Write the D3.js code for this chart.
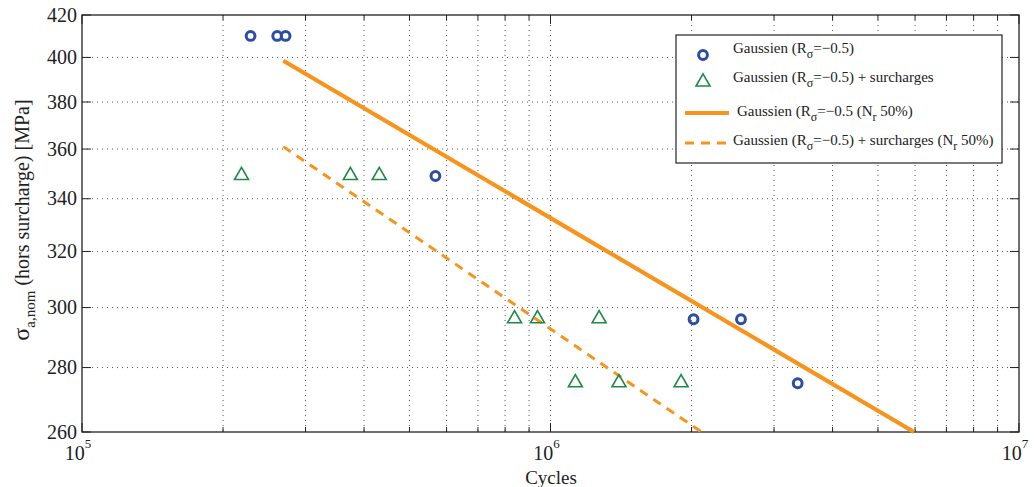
<!DOCTYPE html>
<html><head><meta charset="utf-8">
<script src="https://cdn.jsdelivr.net/npm/d3@7"></script>
<style>body{margin:0;background:#fff}svg text{font-family:"Liberation Serif","DejaVu Serif",serif;fill:#222}</style>
</head><body><svg id="c" width="1034" height="487"></svg>
<script>
// data
const circleX = [2.29e5, 2.61e5, 2.72e5, 5.68e5, 2.02e6, 2.55e6, 3.37e6];
const circleY = [410, 410, 410, 349, 296, 296, 275];
const triX = [2.19e5, 3.74e5, 4.31e5, 8.38e5, 9.38e5, 1.27e6, 1.13e6, 1.40e6, 1.90e6];
const triY = [349, 349, 349, 296, 296, 296, 275, 275, 275];
const solidX = [2.69e5, 5.97e6];
const solidY = [398.5, 260];
const dashX = [2.69e5, 2.1e6];
const dashY = [361, 260];
const yTicks = [260, 280, 300, 320, 340, 360, 380, 400, 420];
const xMajor = [1e5, 1e6, 1e7];
const xMajorExp = ["5", "6", "7"];
const legendLabels = [
  ["Gaussien (R", "σ", "=−0.5)"],
  ["Gaussien (R", "σ", "=−0.5) + surcharges"],
  ["Gaussien (R", "σ", "=−0.5 (N", "r", " 50%)"],
  ["Gaussien (R", "σ", "=−0.5) + surcharges (N", "r", " 50%)"]
];

const svg = d3.select("#c");
const L = 82, R = 1019, T = 15, B = 432;
const FONT = '"Liberation Serif","DejaVu Serif",serif';
const x = d3.scaleLog().domain([1e5, 1e7]).range([L, R]);
const y = d3.scaleLog().domain([260, 420]).range([B, T]);
const blue = "#2b4ea2", green = "#1e8a45", orange = "#f7941d";

const xMinor = [];
for (let e = 5; e < 7; e++) for (let k = 2; k <= 9; k++) xMinor.push(k * Math.pow(10, e));
const xGrid = xMinor.concat([1e6]);

const g = svg.append("g").attr("font-family", FONT);
g.selectAll(".gx").data(xGrid).join("line")
  .attr("x1", d => x(d)).attr("x2", d => x(d)).attr("y1", T).attr("y2", B)
  .attr("stroke", "#555").attr("stroke-width", 1).attr("stroke-dasharray", "1,4");
g.selectAll(".gy").data(yTicks.slice(1, -1)).join("line")
  .attr("x1", L).attr("x2", R).attr("y1", d => y(d)).attr("y2", d => y(d))
  .attr("stroke", "#555").attr("stroke-width", 1).attr("stroke-dasharray", "1,4");

g.append("rect").attr("x", L).attr("y", T).attr("width", R - L).attr("height", B - T)
  .attr("fill", "none").attr("stroke", "#222").attr("stroke-width", 1.3);

const tk = g.append("g").attr("stroke", "#222").attr("stroke-width", 1);
xMinor.forEach(d => {
  tk.append("line").attr("x1", x(d)).attr("x2", x(d)).attr("y1", B).attr("y2", B - 5);
  tk.append("line").attr("x1", x(d)).attr("x2", x(d)).attr("y1", T).attr("y2", T + 5);
});
xMajor.forEach(d => {
  tk.append("line").attr("x1", x(d)).attr("x2", x(d)).attr("y1", B).attr("y2", B - 9);
  tk.append("line").attr("x1", x(d)).attr("x2", x(d)).attr("y1", T).attr("y2", T + 9);
});
yTicks.forEach(d => {
  tk.append("line").attr("x1", L).attr("x2", L + 9).attr("y1", y(d)).attr("y2", y(d));
  tk.append("line").attr("x1", R).attr("x2", R - 9).attr("y1", y(d)).attr("y2", y(d));
});

g.selectAll(".yl").data(yTicks).join("text")
  .attr("x", L - 5).attr("y", d => y(d) + 6.5).attr("text-anchor", "end")
  .attr("font-size", 20).text(d => d);
xMajor.forEach((d, i) => {
  const t = g.append("text").attr("x", x(d) - 4).attr("y", 460).attr("text-anchor", "middle").attr("font-size", 20);
  t.append("tspan").text("10");
  t.append("tspan").attr("dy", -12).attr("font-size", 13).text(xMajorExp[i]);
});
g.append("text").attr("x", 551).attr("y", 484).attr("text-anchor", "middle").attr("font-size", 19).text("Cycles");

const yl = g.append("text").attr("transform", "translate(29,220) rotate(-90)").attr("text-anchor", "middle").attr("font-size", 20);
yl.append("tspan").attr("font-size", 24).text("σ");
yl.append("tspan").attr("dy", 6).attr("font-size", 15).text("a,nom");
yl.append("tspan").attr("dy", -6).text(" (hors surcharge) [MPa]");

const line = d3.line().x(d => x(d[0])).y(d => y(d[1]));
g.append("path").attr("d", line(solidX.map((v, i) => [v, solidY[i]])))
  .attr("fill", "none").attr("stroke", orange).attr("stroke-width", 4.2);
g.append("path").attr("d", line(dashX.map((v, i) => [v, dashY[i]])))
  .attr("fill", "none").attr("stroke", orange).attr("stroke-width", 3).attr("stroke-dasharray", "9,7");

const tri = d3.symbol().type(d3.symbolTriangle).size(85);
g.selectAll(".tri").data(triX).join("path")
  .attr("transform", (d, i) => `translate(${x(d)},${y(triY[i]) - 0.5})`)
  .attr("d", tri).attr("fill", "none").attr("stroke", green).attr("stroke-width", 1.6);
g.selectAll(".cir").data(circleX).join("circle")
  .attr("cx", d => x(d)).attr("cy", (d, i) => y(circleY[i]))
  .attr("r", 4.4).attr("fill", "none").attr("stroke", blue).attr("stroke-width", 3);

const lg = g.append("g");
lg.append("rect").attr("x", 676).attr("y", 35).attr("width", 326).attr("height", 128)
  .attr("fill", "#fff").attr("stroke", "#222").attr("stroke-width", 1.2);
lg.append("circle").attr("cx", 703).attr("cy", 55).attr("r", 4.4).attr("fill", "none").attr("stroke", blue).attr("stroke-width", 3);
lg.append("path").attr("transform", "translate(703,82)").attr("d", tri).attr("fill", "none").attr("stroke", green).attr("stroke-width", 1.6);
lg.append("line").attr("x1", 685).attr("x2", 729).attr("y1", 113).attr("y2", 113).attr("stroke", orange).attr("stroke-width", 4.2);
lg.append("line").attr("x1", 685).attr("x2", 729).attr("y1", 143).attr("y2", 143).attr("stroke", orange).attr("stroke-width", 3).attr("stroke-dasharray", "9,7");
const ly = [53, 82, 116, 145], lx = [733, 733, 737, 733];
legendLabels.forEach((parts, i) => {
  const t = lg.append("text").attr("x", lx[i]).attr("y", ly[i]).attr("font-size", 15);
  parts.forEach((p, j) => {
    const sub = j % 2 === 1;
    t.append("tspan").attr("dy", sub ? 5 : (j > 0 ? -5 : 0)).attr("font-size", sub ? 12 : 15).text(p);
  });
});
</script></body></html>
